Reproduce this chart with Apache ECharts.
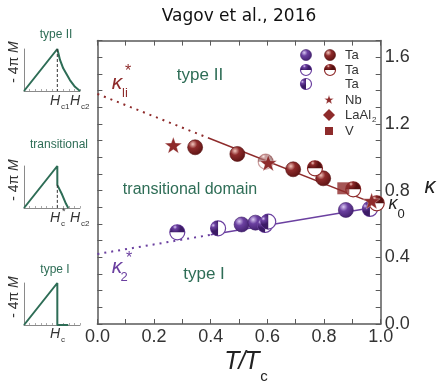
<!DOCTYPE html>
<html><head><meta charset="utf-8">
<script src="https://cdn.jsdelivr.net/npm/echarts@6/dist/echarts.min.js"></script>
<style>html,body{margin:0;padding:0;background:#fff}#c{width:437px;height:383px}</style>
</head><body><div id="c"></div>
<script>
// ---------- data ----------
const xTickLabels = ['0.0','0.2','0.4','0.6','0.8','1.0'];
const yTickLabels = ['0.0','0.4','0.8','1.2','1.6'];

const redFullTa   = [[0.345,1.06],[0.494,1.02],[0.691,0.928],[0.797,0.874]];
const redHalfTa   = [[0.594,0.974],[0.768,0.934],[0.903,0.808],[0.986,0.724]];
const nbStars     = [[0.268,1.068],[0.603,0.962],[0.968,0.734]];
const vSquares    = [[0.868,0.814]];
const purpleFullTa     = [[0.509,0.597],[0.558,0.608],[0.877,0.684]];
const purpleTopHalfTa  = [[0.282,0.55]];
const purpleLeftHalfTa = [[0.426,0.574],[0.592,0.594],[0.603,0.614],[0.962,0.69]];

const kappaLiDotted = [[0,1.38],[0.39,1.117]];
const kappaLiSolid  = [[0.39,1.117],[1.0,0.707]];
const kappa2Dotted  = [[0,0.42],[0.40,0.535]];
const kappa2Solid   = [[0.40,0.535],[1.0,0.707]];

// insets: -4piM vs H (normalised)
const insetTypeII        = [[0,0],[0.595,1.0],[0.643,0.74],[0.70,0.54],[0.82,0.26],[0.91,0.10],[1.0,0]];
const insetTypeIIDash    = [[0.595,1.0],[0.595,0]];
const insetTransitional  = [[0,0],[0.595,1.0],[0.595,0.55],[0.68,0.32],[0.75,0.10],[0.79,0]];
const insetTransDash     = [[0.595,0.55],[0.595,0]];
const insetTypeI         = [[0,0],[0.595,1.0],[0.595,0],[0.79,0]];

// ---------- styles ----------
const RED = {light:'#f2c6bd', mid:'#8e2b2b', dark:'#561010'};
const PUR = {light:'#d9c8f2', mid:'#6b40a0', dark:'#3c1b66'};
const GREEN = '#2e6d56';
const AX = '#5a5a5a';
const SANS = '"Liberation Sans", Arial, sans-serif';

function grad(p){
  return new echarts.graphic.RadialGradient(0.35,0.3,0.8,[
    {offset:0,color:p.light},{offset:0.35,color:p.mid},{offset:1,color:p.dark}]);
}
function sphere(cx,cy,r,p,op){
  return {type:'circle',shape:{cx:cx,cy:cy,r:r},
    style:{fill:grad(p),stroke:p.dark,lineWidth:0.6,opacity:op==null?1:op}};
}
function half(cx,cy,r,p,dir,op){
  const s = dir==='top'?Math.PI:Math.PI/2;
  return {type:'group',children:[
    {type:'circle',shape:{cx:cx,cy:cy,r:r},style:{fill:'#fff',stroke:p.mid,lineWidth:1.2,opacity:op==null?1:op}},
    {type:'sector',shape:{cx:cx,cy:cy,r0:0,r:r,startAngle:s,endAngle:s+Math.PI,clockwise:true},
      style:{fill:grad(p),opacity:op==null?1:op}}
  ]};
}
function starPoints(cx,cy,R){
  const pts=[];
  for(let k=0;k<10;k++){
    const r = k%2===0?R:R*0.4;
    const a = -Math.PI/2 + k*Math.PI/5;
    pts.push([cx+r*Math.cos(a), cy+r*Math.sin(a)]);
  }
  return pts;
}
function star(cx,cy,R,fill){
  return {type:'polygon',shape:{points:starPoints(cx,cy,R)},style:{fill:fill,stroke:'#fff',lineWidth:0.3}};
}

function markerSeries(data, fn, z){
  return {type:'custom',xAxisIndex:0,yAxisIndex:0,data:data,z:z||5,clip:false,
    renderItem:function(params,api){
      const p = api.coord([api.value(0),api.value(1)]);
      return fn(p[0],p[1],params.dataIndex);
    }};
}

function labelFmt(list){
  return function(v){
    const t = v.toFixed(1);
    return list.indexOf(t)>=0 ? t : '';
  };
}

const chart = echarts.init(document.getElementById('c'),null,{renderer:'canvas'});

const insetGrids = [
  {left:24,top:49,width:56,height:42},
  {left:24,top:166,width:56,height:42},
  {left:24,top:283,width:56,height:42}
];

const mainLine = {show:true,onZero:false,lineStyle:{color:AX,width:1.5}};
const mainTick = {show:true,inside:true,length:5,lineStyle:{color:AX,width:1}};

const option = {
  animation:false,
  backgroundColor:'#fff',
  grid:[
    {left:97.4,top:40.6,width:283.3,height:283.4,outerBoundsMode:'none',containLabel:false}
  ].concat(insetGrids.map(g=>Object.assign({outerBoundsMode:'none',containLabel:false},g))),
  xAxis:[
    {gridIndex:0,type:'value',min:0,max:1,interval:0.1,position:'bottom',
      axisLine:mainLine,axisTick:mainTick,
      axisLabel:{formatter:labelFmt(xTickLabels),fontSize:18,color:'#333',margin:4,fontFamily:SANS},
      splitLine:{show:false}},
    {gridIndex:0,type:'value',min:0,max:1,interval:0.1,position:'top',
      axisLine:mainLine,axisTick:mainTick,
      axisLabel:{show:false},splitLine:{show:false}}
  ].concat([1,2,3].map(i=>({gridIndex:i,type:'value',min:0,max:1,interval:0.1,
      axisLine:{onZero:false,lineStyle:{color:'#8a8a8a',width:1}},
      axisTick:{inside:true,length:2,lineStyle:{color:'#aaa'}},
      axisLabel:{show:false},splitLine:{show:false}}))),
  yAxis:[
    {gridIndex:0,type:'value',min:0,max:1.7,interval:0.1,position:'right',
      axisLine:mainLine,axisTick:mainTick,
      axisLabel:{formatter:labelFmt(yTickLabels),fontSize:18,color:'#333',margin:4,fontFamily:SANS},
      splitLine:{show:false}},
    {gridIndex:0,type:'value',min:0,max:1.7,interval:0.1,position:'left',
      axisLine:mainLine,axisTick:mainTick,
      axisLabel:{show:false},splitLine:{show:false}}
  ].concat([1,2,3].map(i=>({gridIndex:i,type:'value',min:0,max:1,
      axisLine:{show:true,onZero:false,lineStyle:{color:'#8a8a8a',width:1}},
      axisTick:{show:false},axisLabel:{show:false},splitLine:{show:false}}))),
  series:[
    {type:'line',xAxisIndex:0,yAxisIndex:0,data:kappaLiDotted,symbol:'none',z:2,
      lineStyle:{color:RED.mid,width:2,type:[2,5]}},
    {type:'line',xAxisIndex:0,yAxisIndex:0,data:kappaLiSolid,symbol:'none',z:2,
      lineStyle:{color:RED.mid,width:1.5}},
    {type:'line',xAxisIndex:0,yAxisIndex:0,data:kappa2Dotted,symbol:'none',z:2,
      lineStyle:{color:PUR.mid,width:2,type:[2,5]}},
    {type:'line',xAxisIndex:0,yAxisIndex:0,data:kappa2Solid,symbol:'none',z:2,
      lineStyle:{color:PUR.mid,width:1.5}},
    markerSeries(purpleFullTa,(x,y)=>sphere(x,y,7.5,PUR)),
    markerSeries(purpleTopHalfTa,(x,y)=>half(x,y,7.5,PUR,'top')),
    markerSeries(purpleLeftHalfTa,(x,y)=>half(x,y,7.5,PUR,'left')),
    markerSeries(redFullTa,(x,y)=>sphere(x,y,7.5,RED)),
    markerSeries(redHalfTa,(x,y,i)=>half(x,y,7.5,RED,'top',i===0?0.45:1)),
    {type:'scatter',xAxisIndex:0,yAxisIndex:0,data:vSquares,symbol:'rect',symbolSize:12,z:6,
      itemStyle:{color:RED.mid}},
    markerSeries(nbStars,(x,y)=>star(x,y,9,RED.mid),7),
    // insets
    {type:'line',xAxisIndex:2,yAxisIndex:2,data:insetTypeII,symbol:'none',lineStyle:{color:GREEN,width:2}},
    {type:'line',xAxisIndex:2,yAxisIndex:2,data:insetTypeIIDash,symbol:'none',lineStyle:{color:'#333',width:1,type:[3,2]}},
    {type:'line',xAxisIndex:3,yAxisIndex:3,data:insetTransitional,symbol:'none',lineStyle:{color:GREEN,width:2}},
    {type:'line',xAxisIndex:3,yAxisIndex:3,data:insetTransDash,symbol:'none',lineStyle:{color:'#333',width:1,type:[3,2]}},
    {type:'line',xAxisIndex:4,yAxisIndex:4,data:insetTypeI,symbol:'none',lineStyle:{color:GREEN,width:2}}
  ],
  graphic:[]
};

function txt(x,y,text,font,fill,align,extra){
  return Object.assign({type:'text',x:x,y:y,z:100,style:{text:text,font:font,fill:fill||'#222',
    align:align||'center',verticalAlign:'middle'}},extra||{});
}
const G = option.graphic;
// title
G.push(txt(239,17,'Vagov et al., 2016','17px "DejaVu Sans", sans-serif','#111'));
// axis names
G.push(txt(232,362,'T','italic 25px '+SANS,'#222'));
G.push(txt(242,362,'/','italic 25px '+SANS,'#222'));
G.push(txt(252,362,'T','italic 25px '+SANS,'#222'));
G.push(txt(264,377,'c','15px '+SANS,'#222'));
G.push(txt(430,187,'κ','italic 22px '+SANS,'#222'));
G.push(txt(393,204,'κ','italic 18px '+SANS,'#222'));
G.push(txt(401,214,'0','13px '+SANS,'#222'));
// region labels
G.push(txt(200,75,'type II','17px '+SANS,GREEN));
G.push(txt(190,190,'transitional domain','16px '+SANS,GREEN));
G.push(txt(204,274,'type I','17px '+SANS,GREEN));
// kappa labels
G.push(txt(117,83,'κ','italic 21px '+SANS,RED.mid));
G.push(txt(125,93,'li','13px '+SANS,RED.mid));
G.push(txt(128,72,'*','16px '+SANS,RED.mid));
G.push(txt(117,267,'κ','italic 21px '+SANS,PUR.mid));
G.push(txt(124,277,'2','13px '+SANS,PUR.mid));
G.push(txt(129,259,'*','16px '+SANS,PUR.mid));
// legend
G.push(sphere(306,55,5.5,PUR)); G.push(sphere(330,55,5.5,RED));
G.push(half(306,70,5.5,PUR,'top')); G.push(half(330,70,5.5,RED,'top'));
G.push(half(306,84,5.5,PUR,'left'));
G.push(star(329,100,5,RED.mid));
G.push({type:'polygon',shape:{points:[[329,109],[335,115],[329,121],[323,115]]},style:{fill:RED.mid}});
G.push({type:'rect',shape:{x:325,y:127,width:8,height:8},style:{fill:RED.mid}});
G.push(txt(345,55,'Ta','13px '+SANS,'#333','left'));
G.push(txt(345,70,'Ta','13px '+SANS,'#333','left'));
G.push(txt(345,84,'Ta','13px '+SANS,'#333','left'));
G.push(txt(345,100,'Nb','13px '+SANS,'#333','left'));
G.push(txt(345,115,'LaAl','13px '+SANS,'#333','left'));
G.push(txt(372,120,'2','8px '+SANS,'#333','left'));
G.push(txt(345,131,'V','13px '+SANS,'#333','left'));
// insets text
const insetTitles = [['type II',56,35],['transitional',59,145],['type I',55,270]];
insetTitles.forEach(t=>G.push(txt(t[1],t[2],t[0],'12px '+SANS,GREEN)));
[62,180,297].forEach(cy=>{
  G.push({type:'text',x:14,y:cy,rotation:Math.PI/2,z:100,
    style:{text:'- 4π {m|M}',font:'14px '+SANS,fill:'#333',align:'center',verticalAlign:'middle',
      rich:{m:{font:'italic 14px '+SANS,fill:'#333'}}}});
});
function hLabel(x,y,sub,sup){
  G.push(txt(x,y,'H','italic 14px '+SANS,'#333'));
  G.push(txt(x+6,y+6,sub,'8px '+SANS,'#333','left'));
  if(sup) G.push(txt(x+7,y-6,sup,'9px '+SANS,'#333','left'));
}
hLabel(55,101,'c1'); hLabel(75,101,'c2');
hLabel(55,218,'c','*'); hLabel(75,218,'c2');
hLabel(55,334,'c');

chart.setOption(option);
</script></body></html>
